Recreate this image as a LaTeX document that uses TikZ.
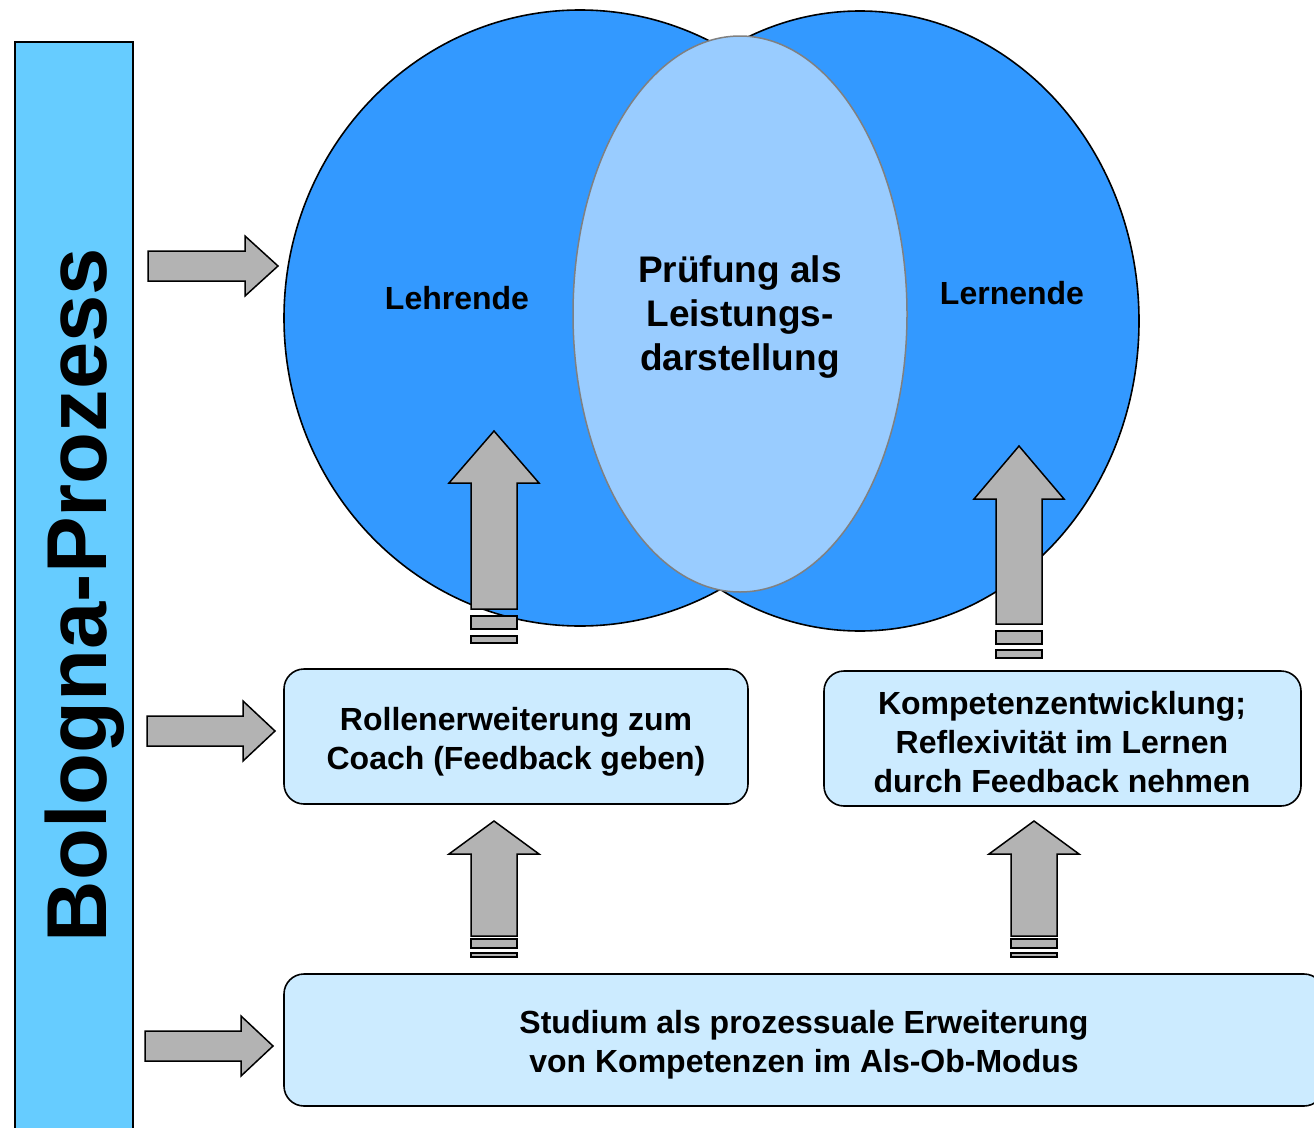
\documentclass[tikz,border=0pt]{standalone}
\usepackage{fontspec}
\setmainfont{Liberation Sans}
\usetikzlibrary{shapes.geometric}
\definecolor{circblue}{HTML}{3399FF}
\definecolor{midblue}{HTML}{99CCFF}
\definecolor{boxblue}{HTML}{CCEBFF}
\definecolor{barblue}{HTML}{66CCFF}
\definecolor{arrowgray}{HTML}{B3B3B3}
\definecolor{rimgray}{HTML}{808080}
\begin{document}
\begin{tikzpicture}[x=1pt,y=-1pt,
  lbl/.style={font=\fontsize{32}{39}\selectfont\bfseries, align=center, inner sep=0pt},
  midlbl/.style={font=\fontsize{37}{44}\selectfont\bfseries, align=center, inner sep=0pt},
  boxnode/.style={draw=black, line width=1.6pt, rounded corners=20pt, fill=boxblue, inner sep=0pt},
  circnode/.style={ellipse, draw=black, line width=1.6pt, fill=circblue, inner sep=0pt},
  blockarrow/.style={draw=black, fill=arrowgray, line width=1.5pt, line join=miter}]
\useasboundingbox (0,0) rectangle (1314,1127);
\clip (0,0) rectangle (1314,1127);
% Bologna bar
\node[draw=black, line width=1.5pt, fill=barblue, inner sep=0pt, minimum width=118pt, minimum height=1100pt, anchor=north west] (bar) at (14,41) {};
\node[font=\fontsize{85}{85}\selectfont\bfseries, rotate=90, anchor=base, inner sep=0pt] (bolo) at (106,595) {Bologna-Prozess};
% circles
\node[circnode, minimum width=592pt, minimum height=616pt] (lehr) at (580,318) {};
\node[circnode, minimum width=558pt, minimum height=620pt] (lern) at (860,321) {};
\node[ellipse, draw=rimgray, line width=1.5pt, fill=midblue, inner sep=0pt, minimum width=334pt, minimum height=556pt] (pruef) at (740,314) {};
\node[lbl, anchor=base] (lehrt) at (457,309) {Lehrende};
\node[lbl, anchor=base] (lernt) at (1012,304) {Lernende};
\node[midlbl] (pruefT) at (740,317.5) {Prüfung als\\Leistungs-\\darstellung};
% boxes
\node[boxnode, minimum width=464pt, minimum height=135pt] (coach) at (516,736.5) {};
\node[lbl] (coachT) at (516,742) {Rollenerweiterung zum\\Coach (Feedback geben)};
\node[boxnode, minimum width=477pt, minimum height=135pt] (komp) at (1062.5,738.5) {};
\node[lbl] (kompT) at (1062,742.5) {Kompetenzentwicklung;\\Reflexivität im Lernen\\durch Feedback nehmen};
\node[boxnode, minimum width=1040pt, minimum height=132pt] (stud) at (804,1040) {};
\node[lbl] (studT) at (804,1045) {Studium als prozessuale Erweiterung\\von Kompetenzen im Als-Ob-Modus};
% horizontal arrows
\draw[blockarrow] (148,251) -- (245,251) -- (245,236) -- (278,266) -- (245,296) -- (245,281) -- (148,281) -- cycle;
\draw[blockarrow] (147,716) -- (243,716) -- (243,701) -- (275,731) -- (243,761) -- (243,746) -- (147,746) -- cycle;
\draw[blockarrow] (145,1031) -- (241,1031) -- (241,1016) -- (273,1046) -- (241,1076) -- (241,1061) -- (145,1061) -- cycle;
% vertical arrows
\draw[blockarrow] (471,609) -- (471,483) -- (449,483) -- (494,431) -- (539,483) -- (517,483) -- (517,609) -- cycle;
\draw[blockarrow] (471,616) rectangle (517,629);
\draw[blockarrow] (471,636) rectangle (517,643);
\draw[blockarrow] (996,624) -- (996,499) -- (974,499) -- (1019,446) -- (1064,499) -- (1042,499) -- (1042,624) -- cycle;
\draw[blockarrow] (996,631) rectangle (1042,644);
\draw[blockarrow] (996,650) rectangle (1042,658);
\draw[blockarrow] (471,936) -- (471,854) -- (449,854) -- (494,821) -- (539,854) -- (517,854) -- (517,936) -- cycle;
\draw[blockarrow] (471,939) rectangle (517,948);
\draw[blockarrow] (471,953) rectangle (517,957);
\draw[blockarrow] (1011,936) -- (1011,854) -- (989,854) -- (1034,821) -- (1079,854) -- (1057,854) -- (1057,936) -- cycle;
\draw[blockarrow] (1011,939) rectangle (1057,948);
\draw[blockarrow] (1011,953) rectangle (1057,957);
\end{tikzpicture}
\end{document}
